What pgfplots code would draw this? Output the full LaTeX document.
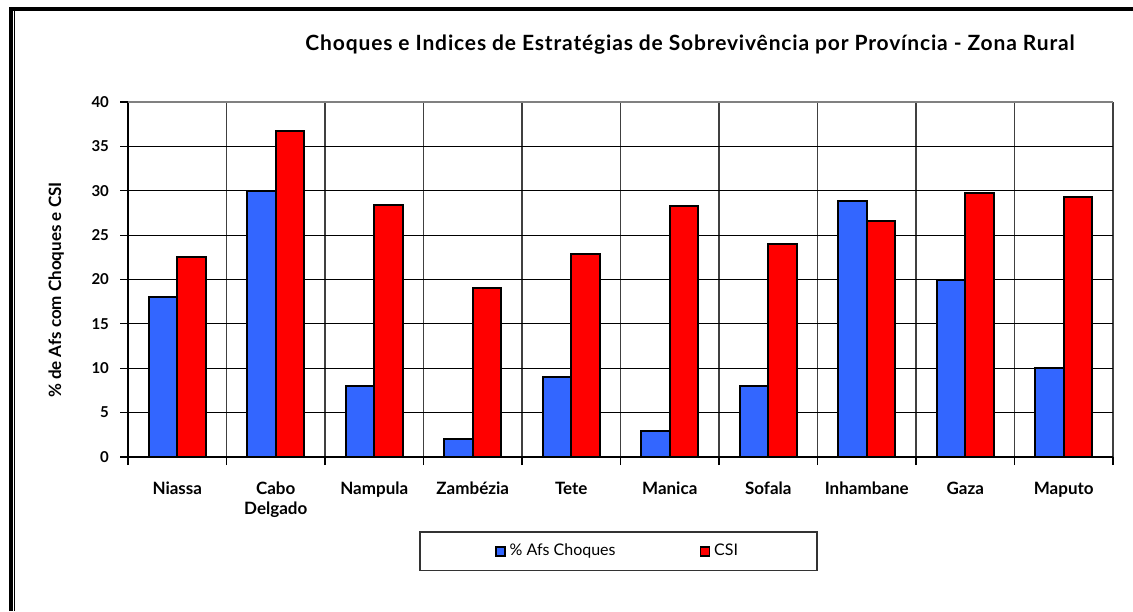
\documentclass[border=0pt]{standalone}
\usepackage{fontspec}
\setmainfont{Lato}
\usepackage{pgfplots}
\usepackage{pgfplotstable}
\pgfplotsset{compat=1.18}
\definecolor{barblue}{HTML}{3366FF}
\definecolor{barred}{HTML}{FF0000}
\pgfplotstableread{
x choques csi
0 18.0 22.5
1 30.0 36.7
2 8.0 28.4
3 2.0 19.0
4 9.0 22.9
5 2.9 28.3
6 8.0 24.0
7 28.9 26.6
8 20.0 29.8
9 10.0 29.3
}\datatable
\begin{document}
\begin{tikzpicture}[x=1pt,y=1pt]
\useasboundingbox (0,0) rectangle (566.5,305.5);
% outer frame (partially visible)
\draw[line width=2pt] (5.6,0) -- (5.6,301.15) -- (566.5,301.15);
\draw[line width=0.6pt] (7.4,0) -- (7.4,300);
\node[font=\bfseries\fontsize{10.5}{12}\selectfont\addfontfeature{LetterSpace=4}] at (345,283) {Choques e Indices de Estratégias de Sobrevivência por Província - Zona Rural};
\begin{axis}[
  at={(64pt,77pt)}, anchor=south west,
  width=492.5pt, height=177.5pt, scale only axis,
  ybar=0pt, bar width=14.25pt,
  xmin=-0.5, xmax=9.5, ymin=0, ymax=40,
  xtick={0,...,9},
  xticklabels={Niassa,{Cabo\\Delgado},Nampula,Zambézia,Tete,Manica,Sofala,Inhambane,Gaza,Maputo},
  xticklabel style={align=center, font=\bfseries\fontsize{8.5}{10}\selectfont, anchor=north, yshift=-5pt},
  major x tick style={draw=none},
  minor xtick={-0.5,0.5,...,9.5},
  xminorgrids, minor grid style={black!75, line width=0.6pt},
  minor tick length=4pt,
  ytick={0,5,...,35},
  extra y ticks={40},
  extra y tick style={major grid style={black!50, line width=0.9pt}},
  ymajorgrids, major grid style={black, line width=0.5pt},
  yticklabel style={font=\bfseries\fontsize{7.5}{9}\selectfont, xshift=-2pt},
  /pgf/number format/assume math mode=true,
  tick align=outside, major tick length=4pt,
  tick style={black, line width=0.6pt},
  axis x line*=bottom, axis y line*=left,
  axis line style={black, line width=0.6pt},
  ylabel={\% de Afs com Choques e CSI},
  ylabel style={font=\bfseries\fontsize{8.5}{10}\selectfont, at={(rel axis cs:0,0.47)}, anchor=south, yshift=28.5pt},
  legend columns=2,
  legend style={at={(0.498,-0.266)}, anchor=center, draw=black!80, line width=0.6pt,
    font=\fontsize{8}{10}\selectfont, inner xsep=37.5pt, inner ysep=4pt,
    /tikz/every even column/.append style={column sep=40pt}},
  legend image code/.code={\draw[#1, line width=0.8pt] (0pt,-2.25pt) rectangle (4.5pt,2.25pt);},
  every axis plot/.append style={draw=black, line width=1pt},
]
\addplot[fill=barblue] table[x=x,y=choques]{\datatable};
\addplot[fill=barred] table[x=x,y=csi]{\datatable};
\legend{\% Afs Choques, CSI}
\end{axis}
\end{tikzpicture}
\end{document}
